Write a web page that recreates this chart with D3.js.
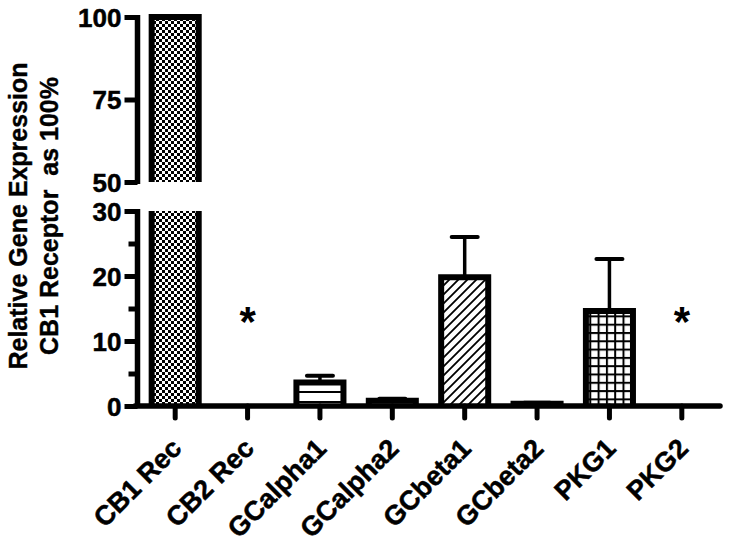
<!DOCTYPE html>
<html>
<head>
<meta charset="utf-8">
<script src="https://cdn.jsdelivr.net/npm/d3@7"></script>
<style>
  body { margin: 0; background: #fff; }
  text { font-family: "Liberation Sans", Arial, sans-serif; font-weight: bold; fill: #000; }
</style>
</head>
<body>
<svg width="729" height="547"></svg>
<script>
const categories = ['CB1 Rec', 'CB2 Rec', 'GCalpha1', 'GCalpha2', 'GCbeta1', 'GCbeta2', 'PKG1', 'PKG2'];
const means = [100, 0, 3.6, 0.8, 19.8, 0.35, 14.6, 0];
const errors = [0, 0, 1.05, 0.3, 6.2, 0.15, 8.0, 0];
const patterns = ['checker', 'none', 'hlines', 'hlines', 'diag', 'diag', 'grid', 'none'];
const starred = ['CB2 Rec', 'PKG2'];
const lowTicks = [0, 10, 20, 30];
const lowMinor = [5, 15, 25];
const highTicks = [50, 75, 100];

const svg = d3.select('svg');
const defs = svg.append('defs');

// fill patterns
const checker = defs.append('pattern').attr('id', 'checker')
  .attr('patternUnits', 'userSpaceOnUse').attr('width', 6).attr('height', 6);
checker.append('rect').attr('width', 6).attr('height', 6).attr('fill', '#fff');
checker.append('rect').attr('width', 3).attr('height', 3).attr('fill', '#000');
checker.append('rect').attr('x', 3).attr('y', 3).attr('width', 3).attr('height', 3).attr('fill', '#000');

const hlines = defs.append('pattern').attr('id', 'hlines')
  .attr('patternUnits', 'userSpaceOnUse').attr('width', 10).attr('height', 10);
hlines.append('rect').attr('width', 10).attr('height', 10).attr('fill', '#fff');
hlines.append('rect').attr('y', 1).attr('width', 10).attr('height', 2).attr('fill', '#000');

const diag = defs.append('pattern').attr('id', 'diag')
  .attr('patternUnits', 'userSpaceOnUse').attr('width', 9).attr('height', 9);
diag.append('rect').attr('width', 9).attr('height', 9).attr('fill', '#fff');
diag.append('path').attr('d', 'M-2,11 L11,-2 M-2,2 L2,-2 M7,11 L11,7')
  .attr('stroke', '#000').attr('stroke-width', 1.8);

const grid = defs.append('pattern').attr('id', 'grid')
  .attr('patternUnits', 'userSpaceOnUse').attr('width', 8.3).attr('height', 8.3);
grid.append('rect').attr('width', 8.3).attr('height', 8.3).attr('fill', '#fff');
grid.append('rect').attr('width', 2).attr('height', 8.3).attr('fill', '#000');
grid.append('rect').attr('width', 8.3).attr('height', 2).attr('fill', '#000');

// scales: broken y axis
const x = d3.scaleBand().domain(categories).range([139, 718]).paddingInner(0.35).paddingOuter(0.175);
const yLow = d3.scaleLinear().domain([0, 30]).range([406, 211]);
const yHigh = d3.scaleLinear().domain([50, 100]).range([182, 17]);

const lw = 6;

// bars
categories.forEach((c, i) => {
  const v = means[i];
  if (patterns[i] === 'none' || v <= 0) return;
  const x0 = x(c), x1 = x(c) + x.bandwidth();
  const fill = `url(#${patterns[i]})`;
  // lower segment
  const topLow = yLow(Math.min(v, 30));
  svg.append('rect').attr('x', x0).attr('y', topLow).attr('width', x1 - x0)
    .attr('height', yLow(0) - topLow).attr('fill', fill);
  const dLow = v > 30
    ? `M${x0},${yLow(0)}V${topLow}M${x1},${yLow(0)}V${topLow}`
    : `M${x0},${yLow(0)}V${topLow}H${x1}V${yLow(0)}`;
  svg.append('path').attr('d', dLow).attr('fill', 'none')
    .attr('stroke', '#000').attr('stroke-width', lw).attr('stroke-linejoin', 'miter');
  // upper segment
  if (v > 50) {
    const topHigh = yHigh(v);
    svg.append('rect').attr('x', x0).attr('y', topHigh).attr('width', x1 - x0)
      .attr('height', yHigh(50) - topHigh).attr('fill', fill);
    svg.append('path').attr('d', `M${x0},${yHigh(50)}V${topHigh}H${x1}V${yHigh(50)}`)
      .attr('fill', 'none').attr('stroke', '#000').attr('stroke-width', lw);
  }
  // error bars (upper only)
  if (errors[i] > 0 && v + errors[i] <= 30) {
    const cx = x0 + x.bandwidth() / 2;
    const yt = yLow(v + errors[i]);
    svg.append('line').attr('x1', cx).attr('x2', cx).attr('y1', topLow).attr('y2', yt)
      .attr('stroke', '#000').attr('stroke-width', 3.5);
    svg.append('line').attr('x1', cx - 13).attr('x2', cx + 13).attr('y1', yt).attr('y2', yt)
      .attr('stroke', '#000').attr('stroke-width', 4).attr('stroke-linecap', 'round');
  }
});

// asterisks
starred.forEach(c => {
  svg.append('text').attr('x', x(c) + x.bandwidth() / 2).attr('y', 336)
    .attr('text-anchor', 'middle').style('font-size', '42px').text('*');
});

// y axis, lower and upper parts
const axLow = svg.append('g').attr('transform', 'translate(137.5,0)')
  .call(d3.axisLeft(yLow).tickValues(lowTicks).tickSize(13).tickPadding(3));
const axHigh = svg.append('g').attr('transform', 'translate(137.5,0)')
  .call(d3.axisLeft(yHigh).tickValues(highTicks).tickSize(13).tickPadding(3));
svg.append('g').attr('transform', 'translate(137.5,0)')
  .call(d3.axisLeft(yLow).tickValues(lowMinor).tickSize(9).tickFormat(''))
  .select('.domain').remove();

[axLow, axHigh].forEach(ax => {
  ax.select('.domain').remove();
  ax.selectAll('text').style('font-size', '26px').attr('dy', '0.36em')
    .attr('stroke', '#000').attr('stroke-width', 0.5);
});
svg.selectAll('.tick line').attr('stroke', '#000').attr('stroke-width', 5);

svg.append('line').attr('x1', 137.5).attr('x2', 137.5).attr('y1', yLow(30) - 2).attr('y2', yLow(0))
  .attr('stroke', '#000').attr('stroke-width', 5.5);
svg.append('line').attr('x1', 137.5).attr('x2', 137.5).attr('y1', yHigh(100) - 2).attr('y2', yHigh(50) + 2)
  .attr('stroke', '#000').attr('stroke-width', 5.5);

// x axis
const axX = svg.append('g').attr('transform', `translate(0,${yLow(0)})`)
  .call(d3.axisBottom(x).tickSize(12).tickFormat(''));
axX.select('.domain').remove();
axX.selectAll('.tick line').attr('stroke', '#000').attr('stroke-width', 5).attr('stroke-linecap', 'round');
svg.append('line').attr('x1', 135).attr('x2', 720).attr('y1', yLow(0)).attr('y2', yLow(0))
  .attr('stroke', '#000').attr('stroke-width', 5.5).attr('stroke-linecap', 'round');

svg.selectAll('.xlabel').data(categories).enter().append('text')
  .attr('class', 'xlabel')
  .attr('transform', d => `translate(${x(d) + x.bandwidth() / 2 + 8},450) rotate(-45)`)
  .attr('text-anchor', 'end')
  .style('font-size', '27px')
  .attr('stroke', '#000').attr('stroke-width', 0.5)
  .text(d => d);

// y title
const title = svg.append('text').attr('transform', 'translate(0,216) rotate(-90)')
  .attr('text-anchor', 'middle').style('font-size', '25px')
  .attr('stroke', '#000').attr('stroke-width', 0.4);
title.append('tspan').attr('x', 0).attr('y', 27).text('Relative Gene Expression');
title.append('tspan').attr('x', 0).attr('y', 58).attr('xml:space', 'preserve').text('CB1 Receptor  as 100%');
</script>
</body>
</html>
